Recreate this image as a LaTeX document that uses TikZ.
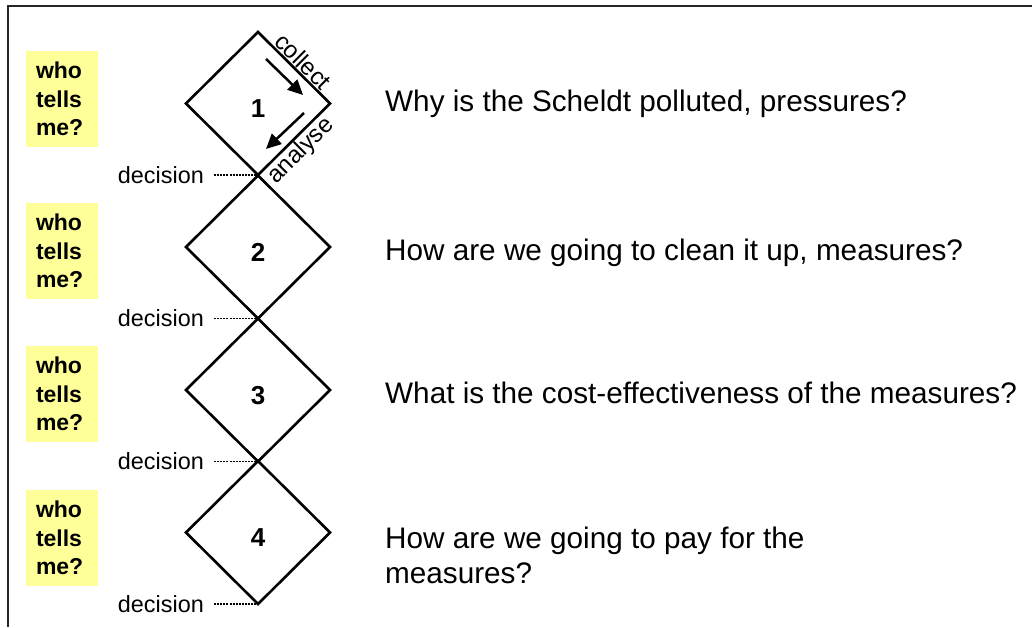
\documentclass[tikz,border=0pt]{standalone}
\usepackage{fontspec}
\setmainfont{Liberation Sans}
\usetikzlibrary{shapes.geometric,arrows.meta,positioning}
\definecolor{noteyellow}{HTML}{FFFF99}

\begin{document}
\begin{tikzpicture}[x=1pt,y=-1pt,
  stage/.style={diamond,draw,line width=2.6pt,aspect=1,minimum width=144pt,minimum height=143pt,
    inner sep=0pt,outer sep=0pt,font=\fontsize{26}{26}\selectfont\bfseries,text height=28pt,text depth=0pt},
  whobox/.style={fill=noteyellow,minimum width=72pt,minimum height=96pt,inner xsep=10pt,inner ysep=0pt,
    text width=52pt,align=left,font=\fontsize{23}{28.5}\selectfont\bfseries},
  question/.style={inner sep=0pt,align=left,font=\fontsize{29.7}{35}\selectfont},
  decision/.style={inner xsep=5pt,inner ysep=0pt,font=\fontsize{23.4}{23.4}\selectfont},
  decline/.style={line width=1.6pt,dash pattern=on 2pt off 1.1pt,shorten <=5pt},
  edgelabel/.style={inner sep=2pt,font=\fontsize{24}{24}\selectfont},
  flow/.style={line width=2.5pt,-{Triangle[length=15pt,width=14pt]}}]
  \useasboundingbox (0,0) rectangle (1032,627);
  \draw[line width=1.3pt,black!85] (1032,6) -- (8,6) -- (8,627);

  % the four steps
  \node[stage] (d1) at (258,103.5) {1};
  \node[stage] (d2) at (258,247) {2};
  \node[stage] (d3) at (258,390) {3};
  \node[stage] (d4) at (258,532.5) {4};

  % collect / analyse on the first step
  \path (d1.north) -- node[edgelabel,sloped,above,pos=0.52] {collect} (d1.east);
  \path (d1.south) -- node[edgelabel,sloped,below,pos=0.47] {analyse} (d1.east);
  \coordinate (c1) at (266,59);  \coordinate (c2) at (303,95);
  \coordinate (a1) at (304,113); \coordinate (a2) at (266,149);
  \draw[flow] (c1) -- (c2);
  \draw[flow] (a1) -- (a2);

  % decisions
  \node[decision,left=49pt of d1.south] (e1) {decision};
  \node[decision,left=49pt of d2.south] (e2) {decision};
  \node[decision,left=49pt of d3.south] (e3) {decision};
  \node[decision,left=49pt of d4.south] (e4) {decision};
  \draw[decline] (e1.east) -- (d1.south);
  \draw[decline] (e2.east) -- (d2.south);
  \draw[decline] (e3.east) -- (d3.south);
  \draw[decline] (e4.east) -- (d4.south);

  % who tells me?
  \node[whobox] (w1) at (62,99) {who\\tells\\me?};
  \node[whobox] (w2) at (62,251) {who\\tells\\me?};
  \node[whobox] (w3) at (62,394) {who\\tells\\me?};
  \node[whobox] (w4) at (62,538) {who\\tells\\me?};

  % questions
  \node[question,anchor=base west] (q1) at (385,111) {Why is the Scheldt polluted, pressures?};
  \node[question,anchor=base west] (q2) at (385,260) {How are we going to clean it up, measures?};
  \node[question,anchor=base west] (q3) at (385,403) {What is the cost-effectiveness of the measures?};
  \node[question,anchor=north west] (q4) at (385,527) {How are we going to pay for the\\measures?};
\end{tikzpicture}
\end{document}
